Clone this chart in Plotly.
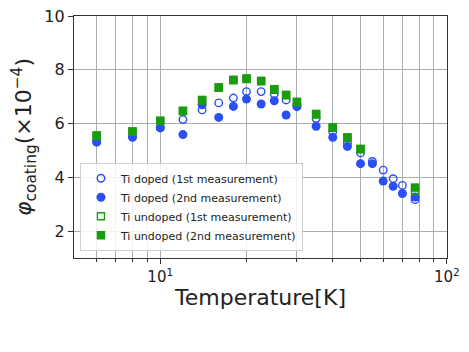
import plotly.graph_objects as go

# temperatures [K]
temp_all = [6, 8, 10, 12, 14, 16, 18, 20, 22.5, 25, 27.5, 30, 35, 40, 45, 50,
            55, 60, 65, 70, 77.5]
temp_undoped = [6, 8, 10, 12, 14, 16, 18, 20, 22.5, 25, 27.5, 30, 35, 40, 45, 50, 77.5]

# loss angle (x1e-4)
doped_1st = [5.35, 5.52, 5.85, 6.15, 6.51, 6.77, 6.95, 7.19, 7.19, 7.10, 6.88,
             6.70, 6.19, 5.70, 5.27, 4.91, 4.59, 4.27, 3.95, 3.70, 3.17]
doped_2nd = [5.31, 5.49, 5.84, 5.59, 6.70, 6.23, 6.64, 6.91, 6.73, 6.85, 6.32,
             6.63, 5.90, 5.49, 5.15, 4.51, 4.51, 3.86, 3.67, 3.40, 3.27]
undoped_1st = [5.54, 5.70, 6.09, 6.46, 6.86, 7.33, 7.61, 7.66, 7.57, 7.26, 7.05,
               6.79, 6.34, 5.84, 5.47, 5.04, 3.49]
undoped_2nd = [5.56, 5.71, 6.11, 6.48, 6.88, 7.35, 7.63, 7.68, 7.59, 7.28, 7.07,
               6.81, 6.36, 5.86, 5.49, 5.06, 3.62]

blue = "#2a4ff5"
green = "#1b9c0e"

fig = go.Figure()
fig.add_trace(go.Scatter(x=temp_all, y=doped_1st, mode="markers",
                         name="Ti doped (1st measurement)",
                         marker=dict(symbol="circle-open", size=7.5, color=blue,
                                     line=dict(width=1.4, color=blue))))
fig.add_trace(go.Scatter(x=temp_all, y=doped_2nd, mode="markers",
                         name="Ti doped (2nd measurement)",
                         marker=dict(symbol="circle", size=9, color=blue)))
fig.add_trace(go.Scatter(x=temp_undoped, y=undoped_1st, mode="markers",
                         name="Ti undoped (1st measurement)",
                         marker=dict(symbol="square-open", size=7, color=green,
                                     line=dict(width=1.4, color=green))))
fig.add_trace(go.Scatter(x=temp_undoped, y=undoped_2nd, mode="markers",
                         name="Ti undoped (2nd measurement)",
                         marker=dict(symbol="square", size=8.5, color=green)))

minor_vals = [6, 7, 8, 9, 20, 30, 40, 50, 60, 70, 80, 90]
grid_col = "#a7b0af"

# the page body adds an 8px offset, margins account for it
fig.update_layout(
    width=469, height=352,
    margin=dict(l=66, r=30, t=8, b=102),
    paper_bgcolor="white", plot_bgcolor="white",
    font=dict(family="DejaVu Sans", color="#222"),
    showlegend=True,
    legend=dict(x=0.016, y=0.03, xanchor="left", yanchor="bottom",
                bgcolor="rgba(255,255,255,0.85)", bordercolor="#d0d0d0",
                borderwidth=1, font=dict(size=11), tracegroupgap=0,
                itemwidth=30),
)
fig.update_xaxes(
    type="log", range=[0.699, 2.0008], automargin=False,
    ticklabeloverflow="allow",
    tickvals=[10, 100], ticktext=["10<sup>1</sup>", "10<sup>2</sup>"],
    ticks="outside", ticklen=5, tickcolor="#333", tickfont=dict(size=15),
    showgrid=True, gridcolor=grid_col, gridwidth=1,
    minor=dict(tickvals=minor_vals, ticks="outside", ticklen=3,
               tickcolor="#333", showgrid=True, gridcolor=grid_col),
    showline=True, linecolor="#333", linewidth=1.2, mirror=True,
    zeroline=False,
    title=dict(text="Temperature[K]", font=dict(size=22), standoff=4),
)
fig.update_yaxes(
    range=[1, 10.002], tickvals=[2, 4, 6, 8, 10], automargin=False,
    ticklabeloverflow="allow",
    ticks="outside", ticklen=5, tickcolor="#333", tickfont=dict(size=16),
    showgrid=True, gridcolor=grid_col, gridwidth=1,
    showline=True, linecolor="#333", linewidth=1.2, mirror=True,
    zeroline=False,
    title=dict(text="<i>φ</i><sub>coating</sub>(×10<sup>−4</sup>)",
               font=dict(size=22), standoff=20),
)

fig.write_html("out.html")
